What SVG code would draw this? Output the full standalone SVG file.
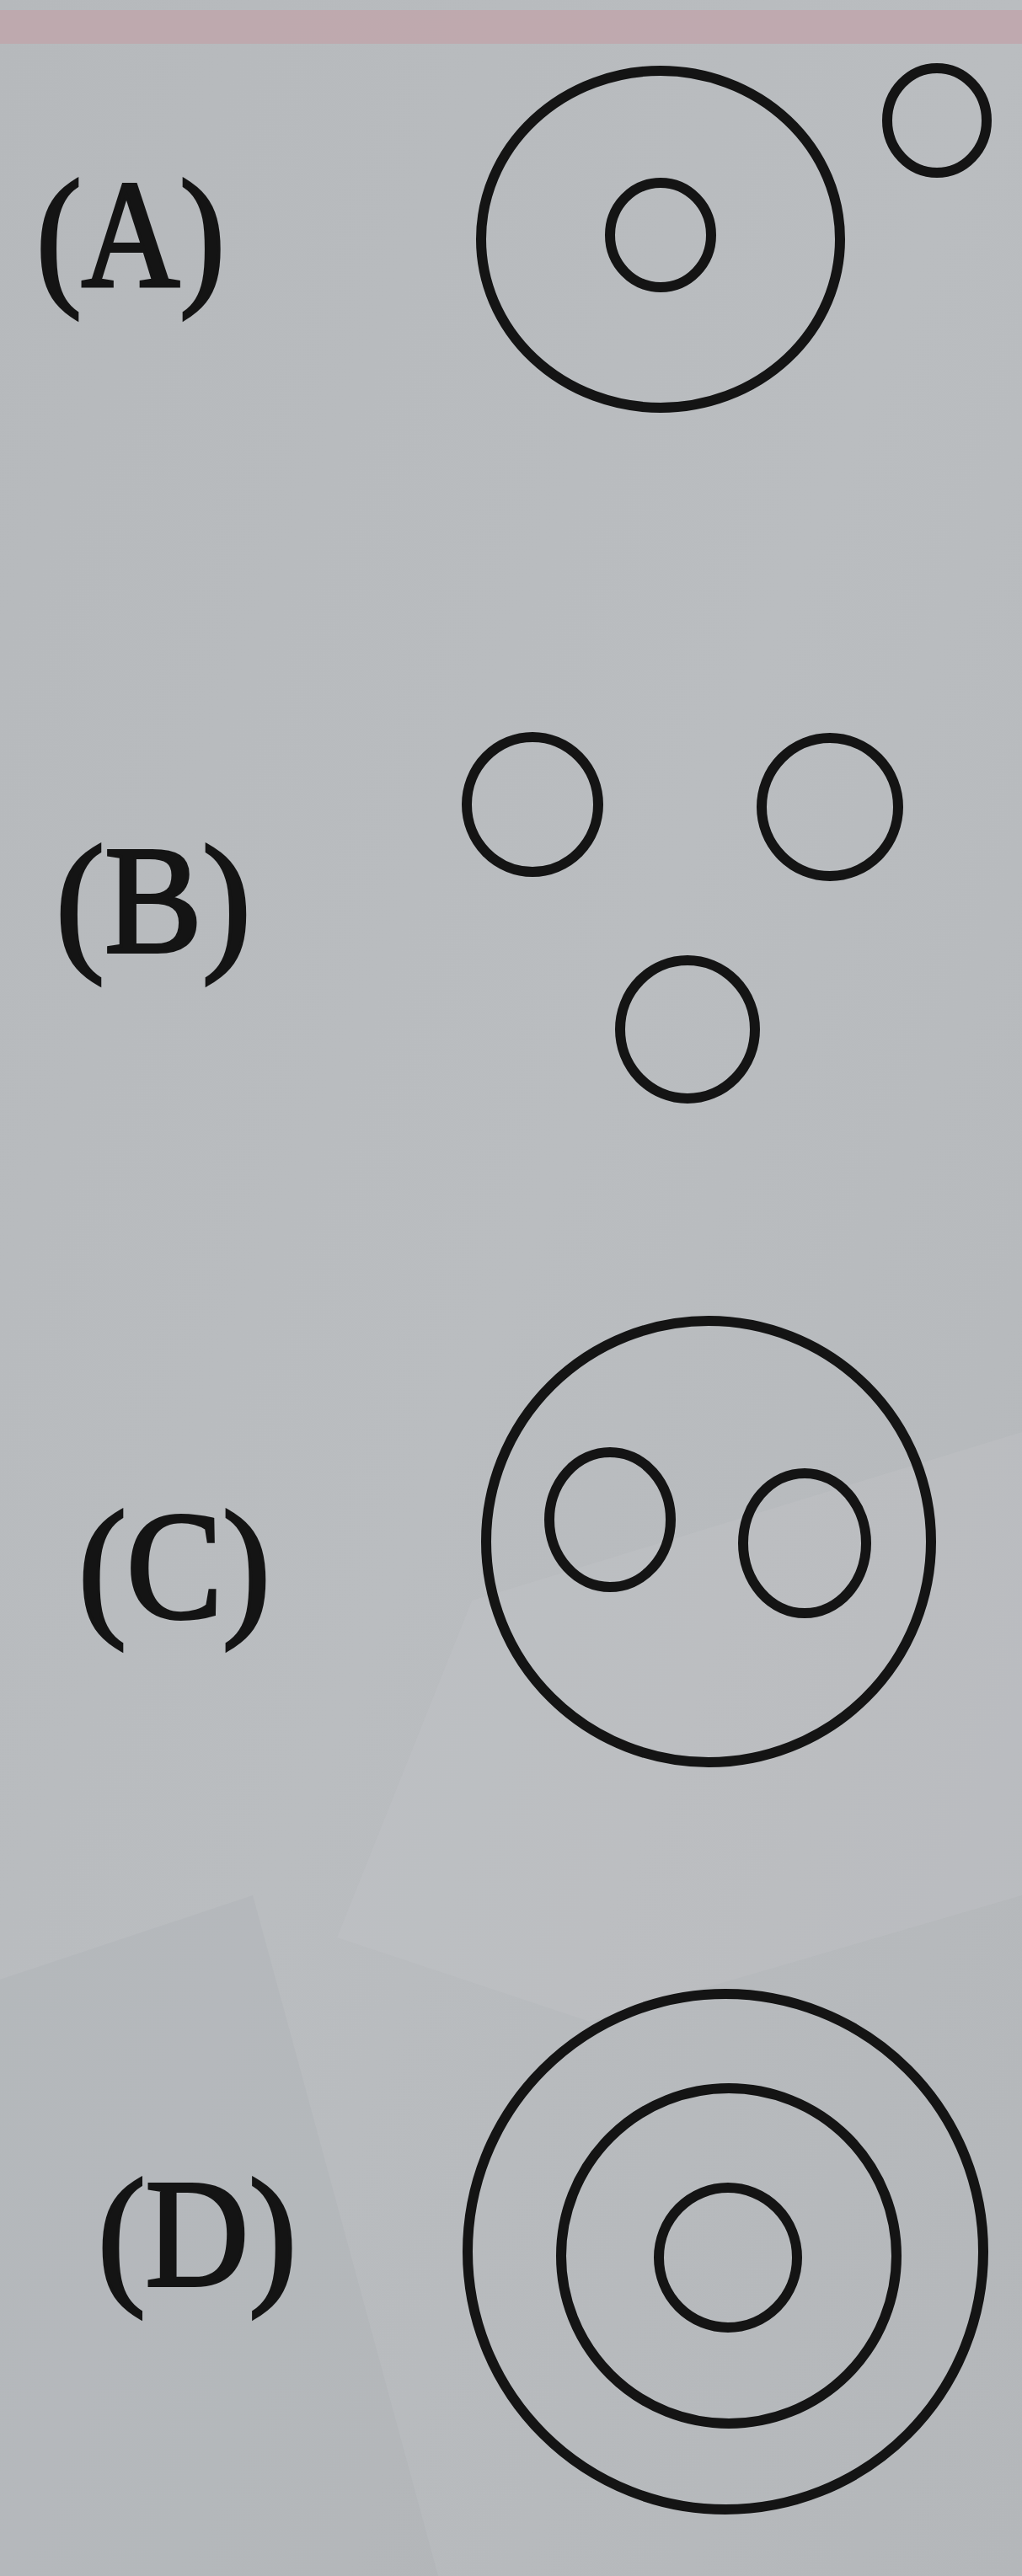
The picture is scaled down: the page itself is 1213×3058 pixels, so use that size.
<svg xmlns="http://www.w3.org/2000/svg" width="1213" height="3058" viewBox="0 0 1213 3058">
<defs>
<linearGradient id="bg" x1="0" y1="0" x2="1" y2="1">
<stop offset="0" stop-color="#b6b9bc"/>
<stop offset="0.5" stop-color="#babdc0"/>
<stop offset="1" stop-color="#b4b7ba"/>
</linearGradient>
<style>
.c{fill:none;stroke:#141414;stroke-width:12}
.t{font-family:"Liberation Serif","DejaVu Serif",serif;font-size:182px;fill:#141414;stroke:#141414;stroke-width:4}
</style>
</defs>
<rect width="1213" height="3058" fill="url(#bg)"/>
<rect x="0" y="12" width="1213" height="40" fill="#c0a6ab" opacity="0.85"/>
<polygon points="560,1900 1213,1700 1213,2250 700,2400 400,2300" fill="#c6c9cc" opacity="0.25"/>
<polygon points="0,2350 300,2250 520,3058 0,3058" fill="#a9acaf" opacity="0.25"/>
<g id="optionA">
<text class="t" x="43" y="340" textLength="224" lengthAdjust="spacingAndGlyphs">(A)</text>
<ellipse class="c" cx="784" cy="284" rx="213" ry="200"/>
<ellipse class="c" cx="784" cy="279" rx="60" ry="62"/>
<ellipse class="c" cx="1112" cy="143" rx="59" ry="62"/>
</g>
<g id="optionB">
<text class="t" x="66" y="1130" textLength="232" lengthAdjust="spacingAndGlyphs">(B)</text>
<ellipse class="c" cx="632" cy="955" rx="78" ry="80"/>
<ellipse class="c" cx="985" cy="958" rx="81" ry="82"/>
<ellipse class="c" cx="816" cy="1222" rx="80" ry="82"/>
</g>
<g id="optionC">
<text class="t" x="93" y="1920" textLength="228" lengthAdjust="spacingAndGlyphs" stroke-width="1">(C)</text>
<ellipse class="c" cx="841" cy="1830" rx="264" ry="262" stroke-width="10"/>
<ellipse class="c" cx="724" cy="1804" rx="72" ry="80" stroke-width="11"/>
<ellipse class="c" cx="955" cy="1832" rx="73" ry="83" stroke-width="11"/>
</g>
<g id="optionD">
<text class="t" x="116" y="2713" textLength="236" lengthAdjust="spacingAndGlyphs">(D)</text>
<ellipse class="c" cx="861" cy="2673" rx="306" ry="306" stroke-width="10"/>
<ellipse class="c" cx="865" cy="2678" rx="199" ry="199" stroke-width="10"/>
<ellipse class="c" cx="864" cy="2680" rx="82" ry="83" stroke-width="10"/>
</g>
<g id="connectors"/>
</svg>
